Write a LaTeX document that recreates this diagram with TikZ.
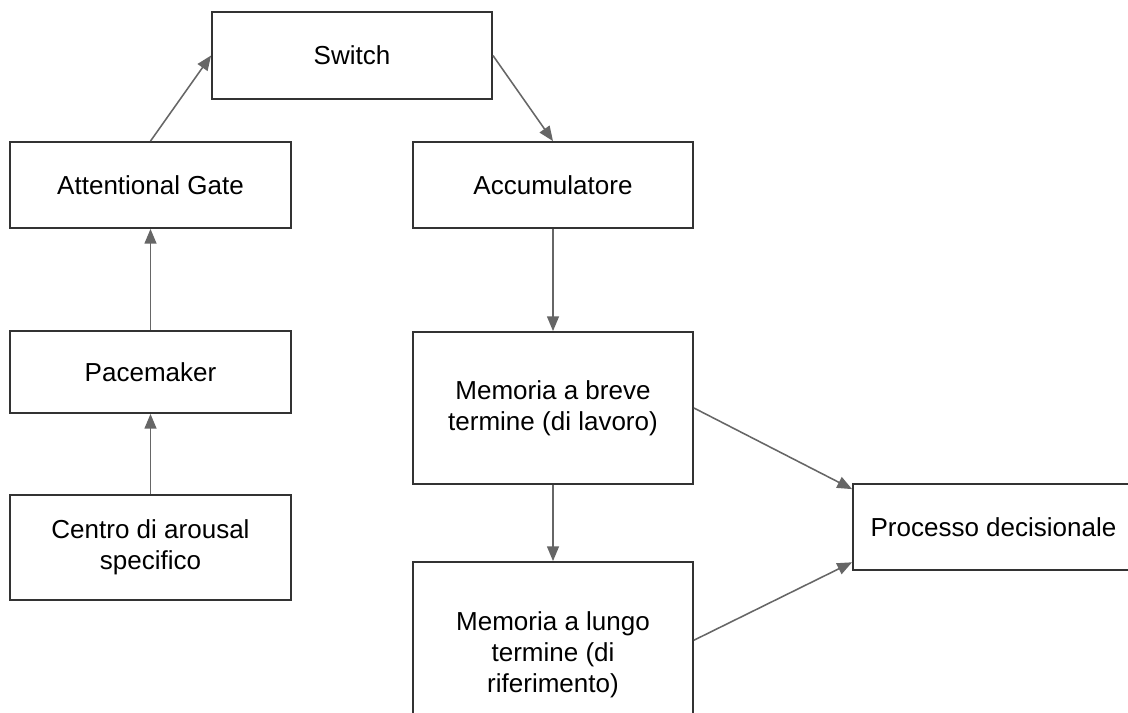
\documentclass[tikz,border=0pt]{standalone}
\usepackage{fontspec}
\setmainfont{Liberation Sans}
\usetikzlibrary{arrows.meta}
\definecolor{boxline}{HTML}{333333}
\definecolor{arrowline}{HTML}{666666}
\begin{document}
\begin{tikzpicture}[x=0.025cm,y=-0.025cm,
  box/.style={draw=boxline,line width=1.3pt,rectangle,inner sep=0pt,
    align=center,font=\fontsize{18.5}{22}\selectfont,text=black},
  link/.style={draw=arrowline,line width=1.1pt,
    -{Triangle[length=10.5pt,width=8.5pt]}}]
\useasboundingbox (0,0) rectangle (1128,712);
\clip (0,0) rectangle (1128,712);
\fill[white] (0,0) rectangle (1128,712);
% left column
\node[box,minimum width=7.0cm,minimum height=2.175cm] (sw) at (352,55.5) {Switch};
\node[box,minimum width=7.025cm,minimum height=2.15cm] (ag) at (150.5,185) {Attentional Gate};
\node[box,minimum width=7.025cm,minimum height=2.05cm] (pm) at (150.5,372) {Pacemaker};
\node[box,minimum width=7.025cm,minimum height=2.625cm] (ca) at (150.5,547.5) {Centro di arousal\\specifico};
% memory column
\node[box,minimum width=7.0cm,minimum height=2.15cm] (acc) at (553,185) {Accumulatore};
\node[box,minimum width=7.0cm,minimum height=3.8cm] (mb) at (553,408) {Memoria a breve\\termine (di lavoro)};
\node[box,minimum width=7.0cm,minimum height=4.65cm] (ml) at (553,655) {Memoria a lungo\\termine (di\\riferimento)};
% decision
\node[box,minimum width=7.025cm,minimum height=2.15cm] (pd) at (993.5,527) {Processo decisionale};
% connectors
\draw[link] (ca.north) -- (pm.south);
\draw[link] (pm.north) -- (ag.south);
\draw[link] (ag.north) -- (sw.west);
\draw[link] (sw.east) -- (acc.north);
\draw[link] (acc.south) -- (mb.north);
\draw[link] (mb.south) -- (ml.north);
\draw[link] (mb.east) -- (pd.165);
\draw[link] (ml.6) -- (pd.194);
\end{tikzpicture}
\end{document}
